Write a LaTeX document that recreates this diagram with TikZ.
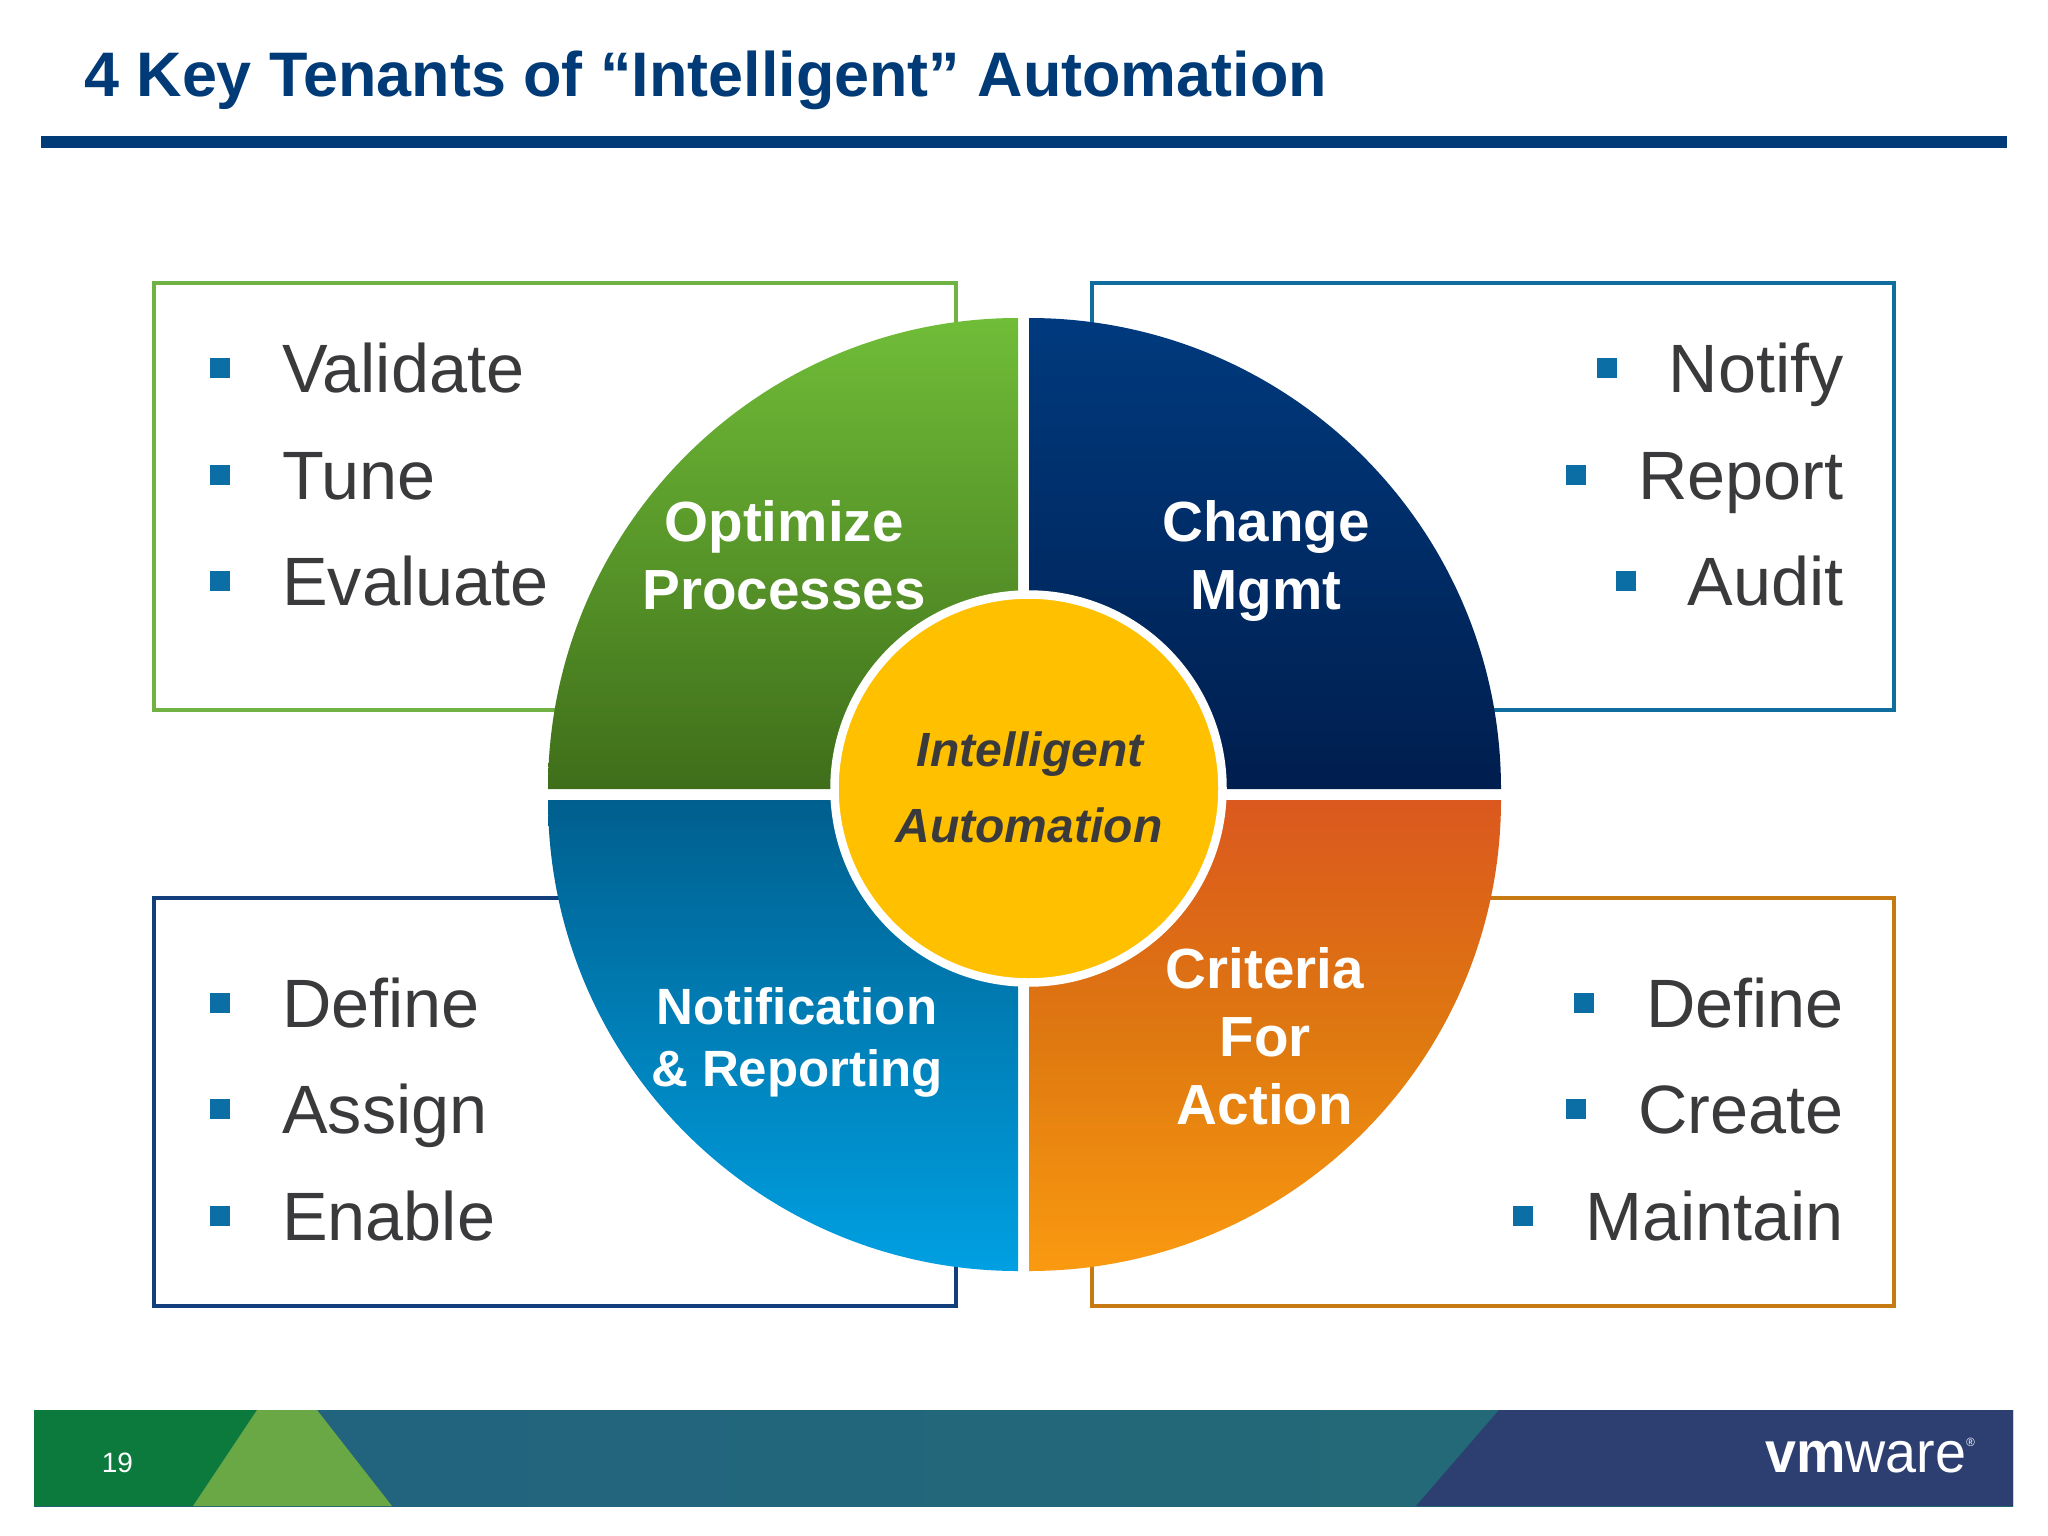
\documentclass[tikz,border=0pt]{standalone}
\usepackage{fontspec}
\usepackage{graphicx}
\setmainfont{Liberation Sans}
\definecolor{titleblue}{HTML}{003B77}
\definecolor{boxgreen}{HTML}{70B244}
\definecolor{boxteal}{HTML}{0F6E9E}
\definecolor{boxnavy}{HTML}{123F7C}
\definecolor{boxorange}{HTML}{C77A12}
\definecolor{bullblue}{HTML}{0B6EA5}
\definecolor{listgrey}{HTML}{3A3A3C}
\definecolor{hubyellow}{HTML}{FFC000}
\definecolor{gtop}{HTML}{70BD38}
\definecolor{gbot}{HTML}{3F6E1A}
\definecolor{ntop}{HTML}{003A7E}
\definecolor{nbot}{HTML}{001E4E}
\definecolor{ltop}{HTML}{005F8E}
\definecolor{lbot}{HTML}{00A0E2}
\definecolor{otop}{HTML}{DB581E}
\definecolor{omid}{HTML}{DE7810}
\definecolor{obot}{HTML}{FA9A10}
\definecolor{footgreen}{HTML}{0B7A3C}
\definecolor{footlight}{HTML}{6AA845}
\definecolor{footl}{HTML}{22627F}
\definecolor{footr}{HTML}{236C75}
\definecolor{footnavy}{HTML}{2C3F70}
\newcommand{\fsz}[2]{\fontsize{#1}{#2}\selectfont}
\tikzset{
  x=1pt,y=-1pt,
  listbox/.style={draw=#1,line width=4pt,fill=white},
  listitem/.style={inner sep=0pt,text=listgrey,font=\fsz{68.4}{72}},
  lefti/.style={listitem,anchor=base west},
  righti/.style={listitem,anchor=base east},
  sq/.style={fill=bullblue,draw=none,minimum size=20pt,inner sep=0pt,shape=rectangle},
  quad/.style={font=\bfseries\fsz{56.6}{68},text=white,align=center,inner sep=0pt},
  quadsmall/.style={font=\bfseries\fsz{51}{62},text=white,align=center,inner sep=0pt},
  hubtext/.style={inner sep=0pt,anchor=base,text=listgrey,font=\bfseries\itshape\fsz{48}{50}},
  leftarc/.style={x radius=470,y radius=-471},
  rightarc/.style={x radius=472,y radius=-471},
}
\newcommand{\lbullet}[1]{\node[sq] at ([shift={(-62,-24)}]#1.base west) {};}
\begin{document}
\begin{tikzpicture}
\useasboundingbox (0,0) rectangle (2048,1536);
\fill[white] (0,0) rectangle (2048,1536);
% title
\node[inner sep=0pt,anchor=base west,text=titleblue,font=\bfseries\fsz{62.9}{70}] (title) at (84,97) {4 Key Tenants of “Intelligent” Automation};
\fill[titleblue] (41,136) rectangle (2007,148);
% boxes
\draw[listbox=boxgreen] (153.5,283) rectangle (956,710);
\draw[listbox=boxteal] (1092,283) rectangle (1894,710);
\draw[listbox=boxnavy] (153.5,898) rectangle (956,1306);
\draw[listbox=boxorange] (1092,898) rectangle (1894,1306);
% quadrants
\shade[top color=gtop,bottom color=gbot] (1018,789) -- (548,789) arc[start angle=180,end angle=90,leftarc] -- cycle;
\shade[top color=ntop,bottom color=nbot] (1029,789) -- (1029,318) arc[start angle=90,end angle=0,rightarc] -- cycle;
\shade[top color=ltop,bottom color=lbot] (1018,800) -- (548,800) arc[start angle=180,end angle=270,leftarc] -- cycle;
\shade[top color=otop,bottom color=obot,middle color=omid] (1029,800) -- (1501,800) arc[start angle=0,end angle=-90,rightarc] -- cycle;
% hub
\node[circle,fill=hubyellow,draw=white,line width=8.5pt,minimum size=388pt,inner sep=0pt] (hub) at (1028.5,788.5) {};
\node[hubtext] (hub1) at (1030,766) {Intelligent};
\node[hubtext] (hub2) at (1029,842) {Automation};
% quadrant labels
\node[quad] (optimize) at (784,555) {Optimize\\Processes};
\node[quad] (change) at (1266,561) {Change\\Mgmt};
\node[quadsmall] (notify) at (797,1042) {Notification\\\& Reporting};
\node[quad] (criteria) at (1265,1036.5) {Criteria\\For\\Action};
% list items
\node[lefti] (v) at (282,392) {Validate}; \lbullet{v}
\node[lefti] (t) at (282,499) {Tune}; \lbullet{t}
\node[lefti] (e) at (282,605) {Evaluate}; \lbullet{e}
\node[lefti] (d) at (282,1027) {Define}; \lbullet{d}
\node[lefti] (a) at (282,1133) {Assign}; \lbullet{a}
\node[lefti] (en) at (282,1240) {Enable}; \lbullet{en}
\node[righti] (n) at (1844,392) {Notify}; \lbullet{n}
\node[righti] (r) at (1844,499) {Report}; \lbullet{r}
\node[righti] (au) at (1844,605) {Audit}; \lbullet{au}
\node[righti] (df) at (1844,1027) {Define}; \lbullet{df}
\node[righti] (c) at (1844,1133) {Create}; \lbullet{c}
\node[righti] (m) at (1844,1240) {Maintain}; \lbullet{m}
% footer
\shade[left color=footl,right color=footr] (34,1410) rectangle (2013,1506);
\fill[footgreen] (34,1410) -- (257,1410) -- (193,1506) -- (34,1506) -- cycle;
\fill[footlight] (257,1410) -- (317,1410) -- (392,1506) -- (193,1506) -- cycle;
\fill[footnavy] (1499,1410) -- (2013,1410) -- (2013,1506) -- (1416,1506) -- cycle;
\node[inner sep=0pt,anchor=base,text=white,font=\fsz{28}{30}] (page) at (117.5,1472) {19};
\node[inner sep=0pt,anchor=base east,text=white,font=\fsz{58}{60}] (logo) at (1975,1472) {\scalebox{.96}[1]{{\bfseries vm}ware\raisebox{26pt}{\fsz{12}{12}®}}};
\end{tikzpicture}
\end{document}
